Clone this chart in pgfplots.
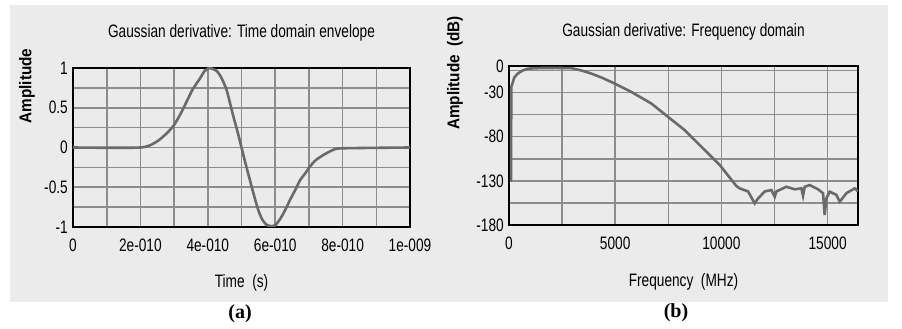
\documentclass[border=0pt]{standalone}
\usepackage{pgfplots}
\pgfplotsset{compat=1.18}
\usepackage{fontspec}
\setmainfont[FakeStretch=0.76]{Liberation Sans}
\newfontfamily\labfont[FakeStretch=0.9]{Liberation Sans}
\newfontfamily\capfont{Liberation Serif}
\definecolor{bg}{HTML}{EBEBEB}
\definecolor{gridc}{HTML}{8C8C8C}
\definecolor{curve}{HTML}{6A6A6A}
\pgfplotsset{
 panel/.style={
  scale only axis, anchor=south west,
  axis line style={black, line width=1.5pt},
  grid=major, grid style={gridc, line width=1.6pt},
  major tick length=0pt, minor tick length=0pt,
  tick label style={font=\fontsize{18}{20}\selectfont},
  xticklabel style={anchor=center, yshift=-18pt},
  yticklabel style={anchor=east, inner sep=1pt, xshift=-4pt},
  scaled ticks=false,
  every axis title/.style={font=\fontsize{18}{20}\selectfont, anchor=center},
  every axis x label/.style={font=\fontsize{18}{20}\selectfont, anchor=center},
  every axis y label/.style={font=\labfont\bfseries\fontsize{17}{19}\selectfont, anchor=center, rotate=90},
 }
}
\begin{document}
\begin{tikzpicture}
\useasboundingbox (0pt,0pt) rectangle (902pt,329pt);
\fill[bg] (10pt,27pt) rectangle (888pt,324pt);
\begin{axis}[panel, at={(73pt,102pt)}, width=337pt, height=159pt,
 xmin=0, xmax=10, ymin=-1, ymax=1,
 xtick={0,1,2,3,4,5,6,7,8,9,10},
 xticklabels={0,,2e-010,,4e-010,,6e-010,,8e-010,,1e-009},
 ytick={-1,-0.75,-0.5,-0.25,0,0.25,0.5,0.75,1},
 yticklabels={-1,,-0.5,,0,,0.5,,1},
 title={Gaussian derivative: Time domain envelope},
 title style={at={(axis description cs:0.5,1.22)}},
 xlabel={Time\ \ (s)},
 xlabel style={at={(axis description cs:0.5,-0.352)}},
 ylabel={Amplitude},
 ylabel style={at={(axis description cs:-0.1365,0.887)}},
]
\addplot[curve, line width=2.6pt, smooth, tension=0.4] coordinates {
(0,0) (2,0) (2.48,0.073) (2.78,0.178) (3.0,0.283) (3.2,0.43) (3.37,0.576) (3.55,0.73) (3.77,0.87) (3.9,0.96) (4.02,0.995) (4.1,0.995) (4.26,0.965) (4.4,0.88) (4.56,0.72) (4.76,0.39) (4.9,0.17) (5.0,0) (5.1,-0.17) (5.25,-0.41) (5.35,-0.57) (5.5,-0.79) (5.62,-0.91) (5.75,-0.975) (5.9,-0.99) (6.0,-0.98) (6.13,-0.91) (6.28,-0.8) (6.44,-0.66) (6.6,-0.53) (6.74,-0.41) (6.9,-0.32) (7.03,-0.24) (7.2,-0.16) (7.43,-0.094) (7.72,-0.03) (8.0,-0.01) (10,0)
};
\end{axis}
\begin{axis}[panel, at={(509pt,104pt)}, width=349pt, height=159pt,
 xmin=0, xmax=16431, ymin=-180, ymax=0,
 xtick={0,2500,5000,7500,10000,12500,15000},
 xticklabels={0,,5000,,10000,,15000},
 ytick={-180,-155,-130,-105,-80,-55,-30,-5,0},
 yticklabels={-180,,-130,,-80,,-30,,0},
 title={Gaussian derivative: Frequency domain},
 title style={at={(axis description cs:0.5,1.214)}},
 xlabel={Frequency\ \ (MHz)},
 xlabel style={at={(axis description cs:0.5,-0.358)}},
 ylabel={Amplitude\ \ (dB)},
 ylabel style={at={(axis description cs:-0.155,0.956)}},
]
\addplot[curve, line width=2.6pt] coordinates {
(100,-131) (105,-24) (250,-13) (410,-8.6) (650,-5) (895,-3) (1500,-2.3) (2200,-2.2) (2940,-2.5) (3400,-5) (3880,-8.6) (4400,-13.5) (4976,-19.9) (5763,-29.4) (6704,-42.5) (7486,-57.6) (8272,-72.6) (8663,-82) (9920,-112) (10706,-135.9) (10860,-138.5) (11254,-142) (11568,-155.5) (11725,-150) (12040,-142) (12354,-140.4) (12510,-148) (12589,-142) (13060,-136.7) (13451,-139.6) (13766,-138.5) (13843,-147) (13922,-136.7) (14157,-134.8) (14549,-139.6) (14785,-144) (14863,-168.7) (14943,-149.8) (15099,-142.3) (15414,-146) (15570,-153.6) (15885,-144) (16276,-138.5) (16431,-142)
};
\end{axis}
\node[font=\capfont\bfseries\fontsize{20}{22}\selectfont] at (240pt,15pt) {(a)};
\node[font=\capfont\bfseries\fontsize{20}{22}\selectfont] at (676pt,16pt) {(b)};
\end{tikzpicture}
\end{document}
